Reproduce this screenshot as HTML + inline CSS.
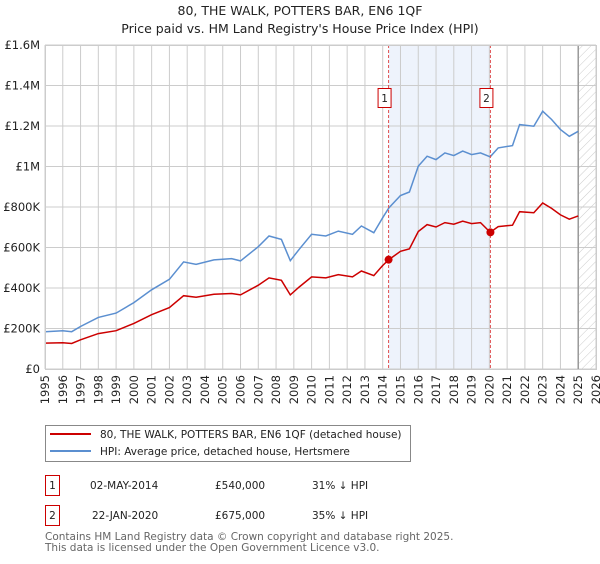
<!DOCTYPE html>
<html><head><meta charset="utf-8"><style>
body{margin:0;background:#fff;width:600px;height:560px;overflow:hidden;font-family:"DejaVu Sans","Liberation Sans",sans-serif}
svg text{font-family:"DejaVu Sans","Liberation Sans",sans-serif}
</style></head><body>
<svg id="chart" width="600" height="560" xmlns="http://www.w3.org/2000/svg">
<defs><pattern id="hatch" width="6" height="6" patternUnits="userSpaceOnUse" patternTransform="rotate(45)"><line x1="0" y1="0" x2="0" y2="6" stroke="#ccc" stroke-width="1"/></pattern></defs>
<text x="300" y="15" text-anchor="middle" font-size="12.5" fill="#222">80, THE WALK, POTTERS BAR, EN6 1QF</text>
<text x="300" y="33" text-anchor="middle" font-size="12.5" fill="#222">Price paid vs. HM Land Registry's House Price Index (HPI)</text>
<g id="grid"></g><g id="series"></g><g id="axes"></g>
<rect x="45.5" y="425.5" width="365" height="36" fill="#fff" stroke="#888"/>
<line x1="50" y1="434" x2="91" y2="434" stroke="#cc0000" stroke-width="2"/>
<text x="100" y="438" font-size="10.5" fill="#222">80, THE WALK, POTTERS BAR, EN6 1QF (detached house)</text>
<line x1="50" y1="451" x2="91" y2="451" stroke="#5b8fd0" stroke-width="2"/>
<text x="100" y="455" font-size="10.5" fill="#222">HPI: Average price, detached house, Hertsmere</text>
<g font-size="10.5" fill="#222">
<rect x="45.5" y="475.5" width="14" height="20" fill="#fff" stroke="#cc0000"/>
<text x="52.5" y="489" text-anchor="middle">1</text>
<text x="90" y="489">02-MAY-2014</text><text x="215" y="489">£540,000</text><text x="312" y="489">31% ↓ HPI</text></g>
<g font-size="10.5" fill="#222">
<rect x="45.5" y="505.5" width="14" height="20" fill="#fff" stroke="#cc0000"/>
<text x="52.5" y="519" text-anchor="middle">2</text>
<text x="92" y="519">22-JAN-2020</text><text x="215" y="519">£675,000</text><text x="312" y="519">35% ↓ HPI</text></g>
<text x="45" y="540" font-size="10.5" fill="#666">Contains HM Land Registry data © Crown copyright and database right 2025.</text>
<text x="45" y="551" font-size="10.5" fill="#666">This data is licensed under the Open Government Licence v3.0.</text>
</svg>
<script>
const years=[1995,1996,1996.5,1997,1998,1999,2000,2001,2002,2002.8,2003.5,2004.5,2005.5,2006,2007,2007.6,2008.3,2008.8,2009.3,2010,2010.8,2011.5,2012.3,2012.8,2013.5,2014,2014.35,2015,2015.5,2016,2016.5,2017,2017.5,2018,2018.5,2019,2019.5,2020.05,2020.5,2021.3,2021.7,2022.5,2023,2023.5,2024,2024.5,2025];
const hpiValues=[184,189,184,210,255,276,328,391,443,529,517,539,545,534,604,657,640,535,591,665,657,681,665,706,673,747,796,857,874,1002,1051,1034,1067,1054,1076,1059,1067,1048,1092,1103,1207,1199,1273,1232,1182,1149,1174];
const priceValues=[128,130,126,144,175,189,225,268,303,362,354,369,373,366,414,450,438,366,405,455,450,466,455,484,461,511,540,581,593,679,713,701,723,715,730,718,723,675,703,710,777,772,820,793,761,740,756];
const saleYears=[2014.33,2020.06];
const saleValues=[540,675];
const saleLabels=["1","2"];
const yTicks=[0,200,400,600,800,1000,1200,1400,1600];
const yTickLabels=["£0","£200K","£400K","£600K","£800K","£1M","£1.2M","£1.4M","£1.6M"];
const xStart=1995,xEnd=2026,forecastStart=2025;
const L=45,R=596,T=45,B=369;
const NS="http://www.w3.org/2000/svg";
function xs(y){return L+(y-xStart)/(xEnd-xStart)*(R-L);}
function ys(v){return B-v/1600*(B-T);}
function mk(tag,attrs,parent){const e=document.createElementNS(NS,tag);for(const k in attrs)e.setAttribute(k,attrs[k]);parent.appendChild(e);return e;}
const grid=document.getElementById('grid'),series=document.getElementById('series'),axes=document.getElementById('axes');
let sh=mk('rect',{x:xs(saleYears[0]),y:T,width:xs(saleYears[1])-xs(saleYears[0]),height:B-T,fill:'#eef3fc'},grid);


for(let y=xStart;y<=xEnd;y++){
 const l=mk('line',{x1:xs(y),x2:xs(y),y1:T,y2:B,stroke:'#ccc','stroke-width':1},grid);
 
 
 const t=mk('text',{x:0,y:0,'font-size':'11.5',fill:'#222','text-anchor':'end',transform:`translate(${xs(y)+4},${B+6}) rotate(-90)`},axes);
 t.textContent=y;
 
 
}
yTicks.forEach((v,i)=>{
 const l=mk('line',{x1:L,x2:R,y1:ys(v),y2:ys(v),stroke:'#ccc','stroke-width':1},grid);
 
 
 const t=mk('text',{x:L-5,y:ys(v)+4,'font-size':'11.5',fill:'#222','text-anchor':'end'},axes);
 t.textContent=yTickLabels[i];
 
 
});
const hz=mk('rect',{x:xs(forecastStart),y:T,width:R-xs(forecastStart),height:B-T,fill:'url(#hatch)'},grid);


const fl=mk('line',{x1:xs(forecastStart),x2:xs(forecastStart),y1:T,y2:B,stroke:'#999','stroke-width':1.5},grid);


function path(vals){return vals.map((v,i)=>(i?'L':'M')+xs(years[i]).toFixed(1)+','+ys(v).toFixed(1)).join('');}
const hp=mk('path',{d:path(hpiValues),fill:'none',stroke:'#5b8fd0','stroke-width':1.5},series);


const pp=mk('path',{d:path(priceValues),fill:'none',stroke:'#cc0000','stroke-width':1.5},series);


saleYears.forEach((y,i)=>{
 const vl=mk('line',{x1:xs(y),x2:xs(y),y1:T,y2:B,stroke:'#e05050','stroke-dasharray':'3,2','stroke-width':1},series);
 
 
 const c=mk('circle',{cx:xs(y),cy:ys(saleValues[i]),r:4,fill:'#cc0000'},series);
 
 
 const g=mk('g',{},series);
 
 
 mk('rect',{x:xs(y)-10.5,y:88.5,width:13,height:19,fill:'#fff',stroke:'#cc0000'},g);
 const t=mk('text',{x:xs(y)-4,y:102,'font-size':'10.5',fill:'#222','text-anchor':'middle'},g);
 t.textContent=saleLabels[i];
});
const bx=mk('rect',{x:L+0.5,y:T+0.5,width:R-L,height:B-T,fill:'none',stroke:'#ccc'},axes);


</script>
</body></html>
